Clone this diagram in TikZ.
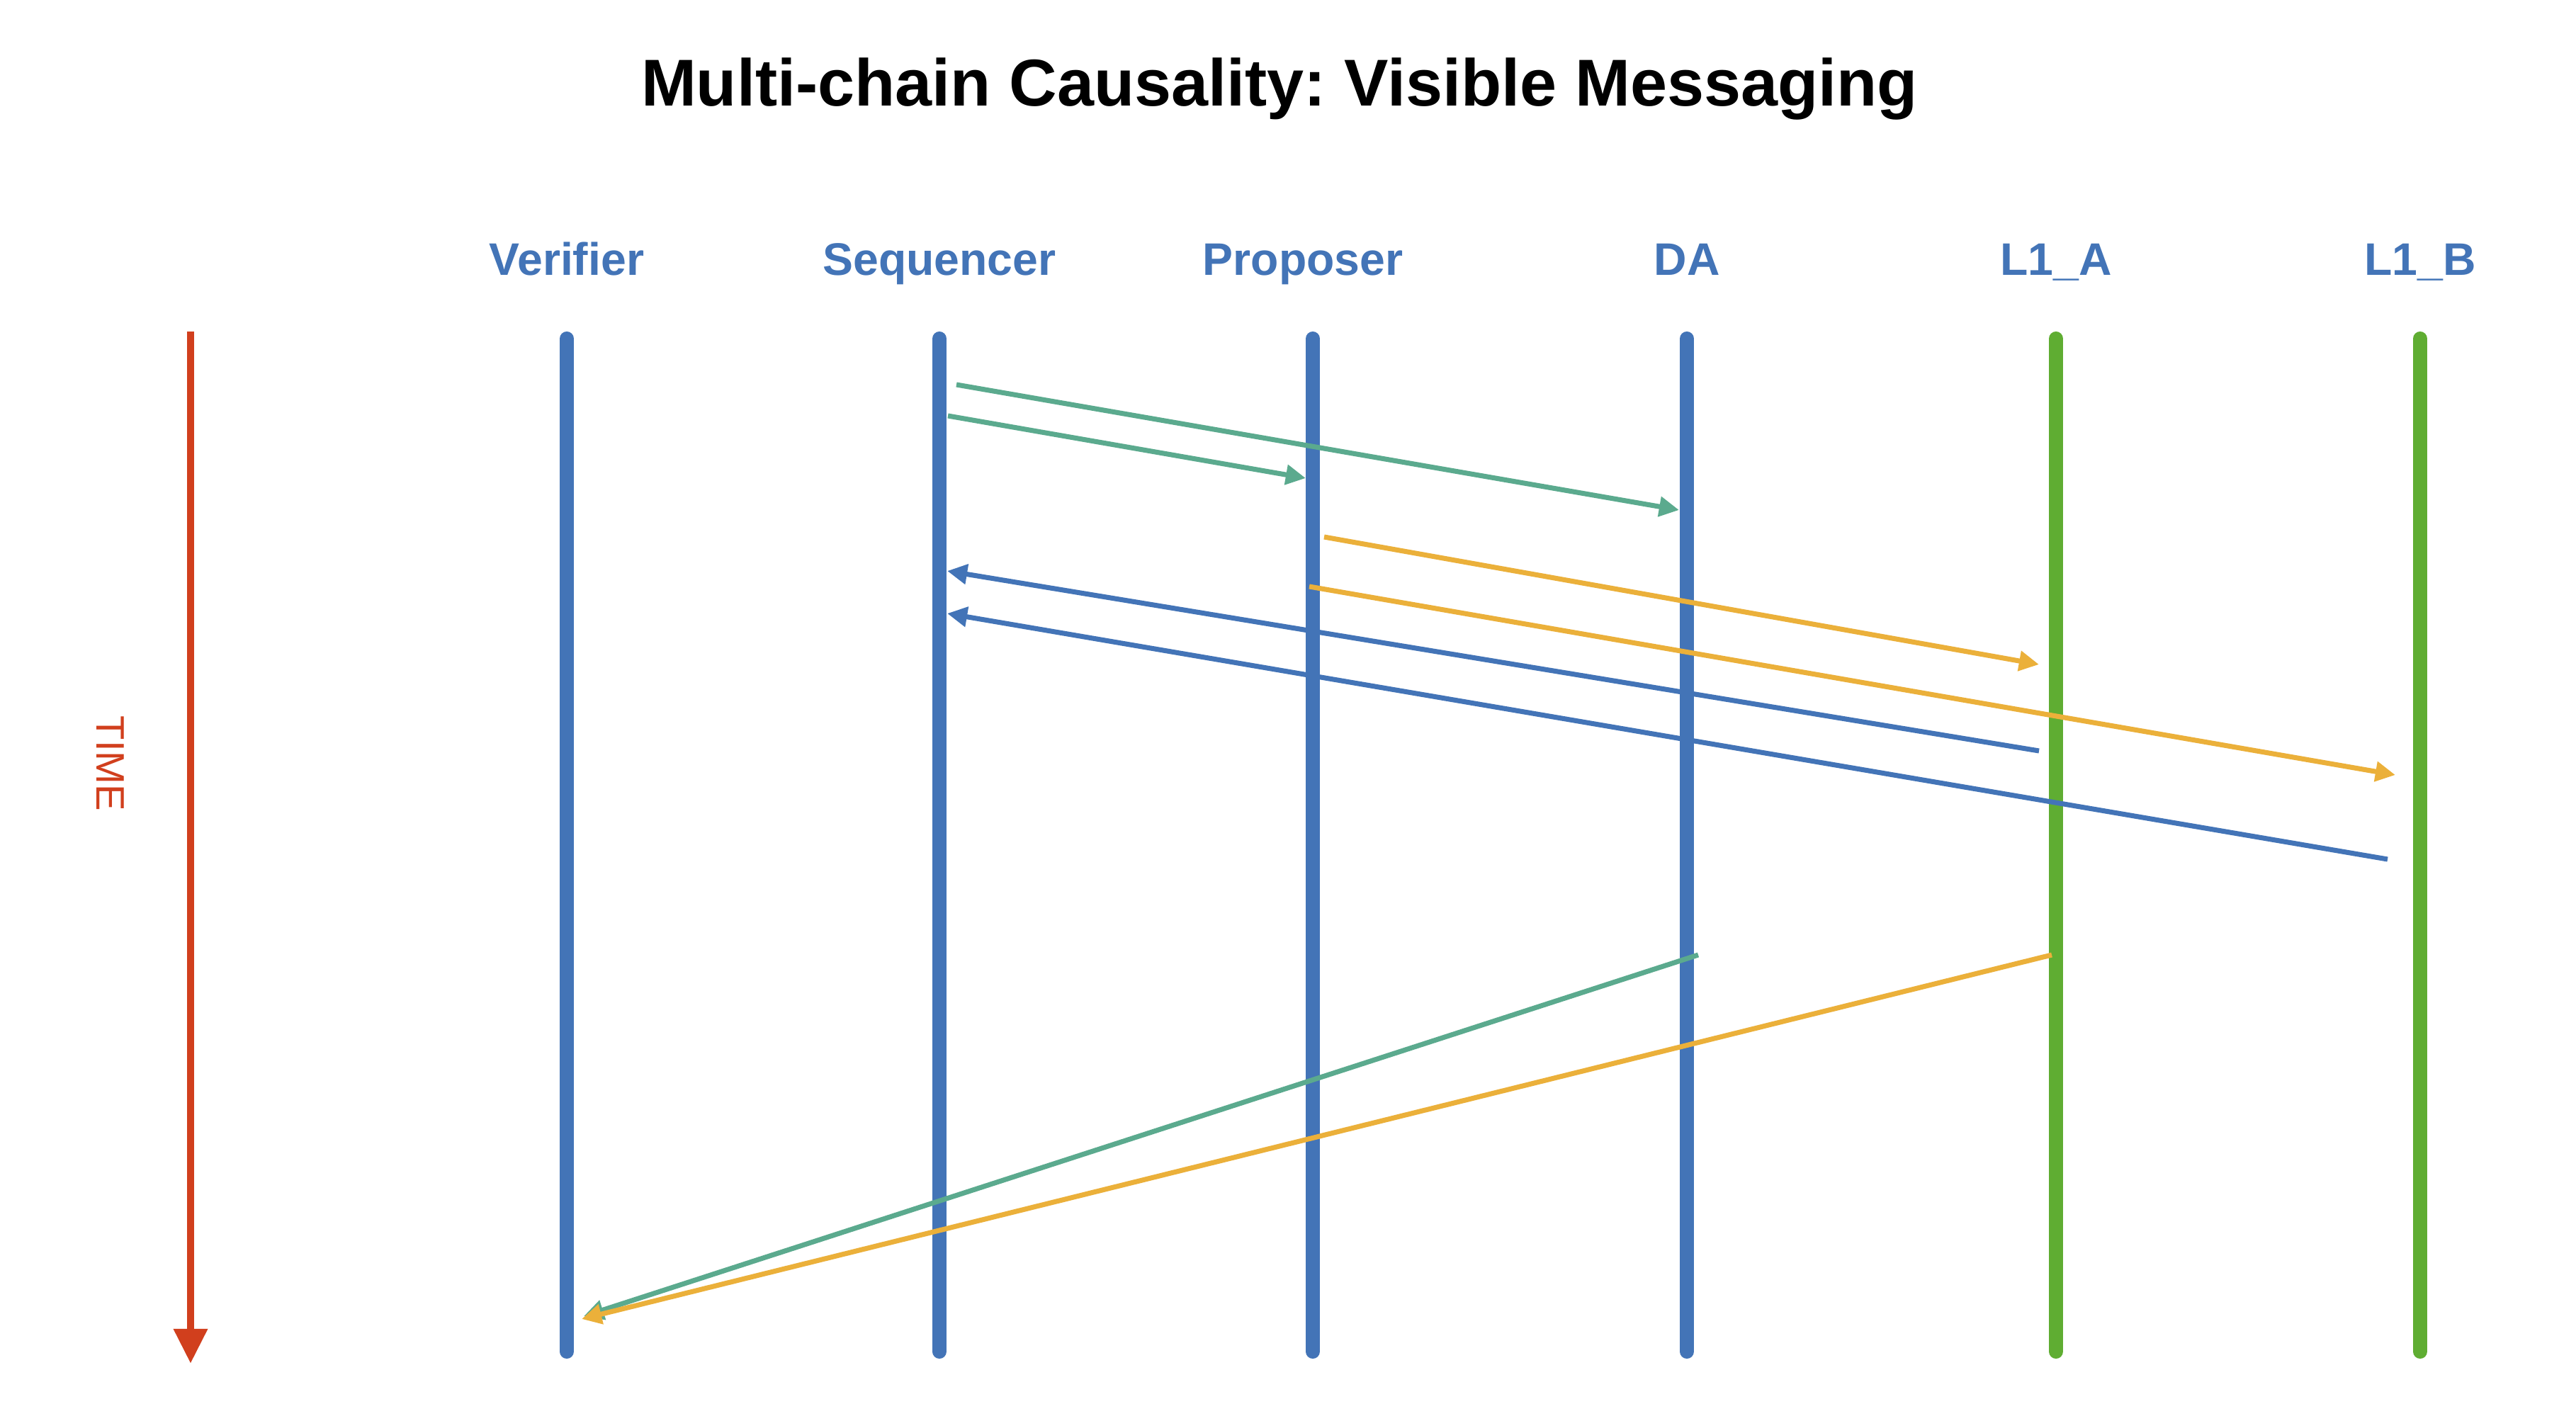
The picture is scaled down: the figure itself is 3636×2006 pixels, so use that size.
\documentclass[tikz,border=0pt]{standalone}
\usepackage{fontspec}
\setmainfont{Liberation Sans}
\usepackage{tikz}
\usetikzlibrary{arrows.meta}
\frenchspacing
\definecolor{laneblue}{HTML}{4374B7}
\definecolor{lanegreen}{HTML}{5FAD32}
\definecolor{msgteal}{HTML}{5BAA8E}
\definecolor{msgamber}{HTML}{EBB03A}
\definecolor{timered}{HTML}{D13F1D}
\tikzset{
  lane/.style={line width=5.7pt, line cap=round},
  actor/.style={anchor=base, inner sep=0pt, font=\fontsize{18.3}{22}\selectfont\bfseries, text=laneblue},
  msg/.style={-{Triangle[length=8pt, width=7.8pt]}, line width=2pt},
  timeline/.style={-{Triangle[length=14pt, width=13pt]}, draw=timered, line width=3.1pt}
}

\begin{document}
\begin{tikzpicture}[x=0.01cm, y=-0.01cm]
\useasboundingbox (0,0) rectangle (3636,2006);
\node[anchor=base, inner sep=0pt, font=\fontsize{26.6}{32}\selectfont\bfseries] (title) at (1806,150) {Multi-chain Causality: Visible Messaging};
% lifelines
\foreach \x/\lx/\name/\txt/\col in {800/800/ver/Verifier/laneblue, 1326/1326/seq/Sequencer/laneblue,
  1853/1839/prop/Proposer/laneblue, 2381/2381/da/DA/laneblue, 2902/2902/lia/L1\_A/lanegreen, 3416/3416/lib/L1\_B/lanegreen}{
  \node[actor] (\name) at (\lx,388) {\txt};
  \coordinate (\name-top) at (\x,478);
  \coordinate (\name-bot) at (\x,1908);
  \draw[lane, draw=\col] (\name-top) -- (\name-bot);
}
% time axis
\coordinate (t0) at (269,468);
\coordinate (t1) at (269,1925);
\draw[timeline] (t0) -- (t1);
\node[rotate=-90, text=timered, font=\fontsize{16}{19}\selectfont] (timelbl) at (156,1078) {TIME};
% message ends
\coordinate (s1) at (1350,543);  \coordinate (r1) at (2370,720);
\coordinate (s2) at (1338,587);  \coordinate (r2) at (1843,675);
\coordinate (s3) at (1869,758);  \coordinate (r3) at (2878,938);
\coordinate (s4) at (1848,828);  \coordinate (r4) at (3381,1094);
\coordinate (s5) at (2878,1060); \coordinate (r5) at (1337,806);
\coordinate (s6) at (3370,1213); \coordinate (r6) at (1337,866);
\coordinate (s7) at (2397,1348); \coordinate (r7) at (824,1858);
\coordinate (s8) at (2896,1348); \coordinate (r8) at (821,1862);
\draw[msg, draw=msgteal] (s1) -- (r1);
\draw[msg, draw=msgteal] (s2) -- (r2);
\draw[msg, draw=msgamber] (s3) -- (r3);
\draw[msg, draw=msgamber] (s4) -- (r4);
\draw[msg, draw=laneblue] (s5) -- (r5);
\draw[msg, draw=laneblue] (s6) -- (r6);
\draw[msg, draw=msgteal] (s7) -- (r7);
\draw[msg, draw=msgamber] (s8) -- (r8);
\end{tikzpicture}
\end{document}
